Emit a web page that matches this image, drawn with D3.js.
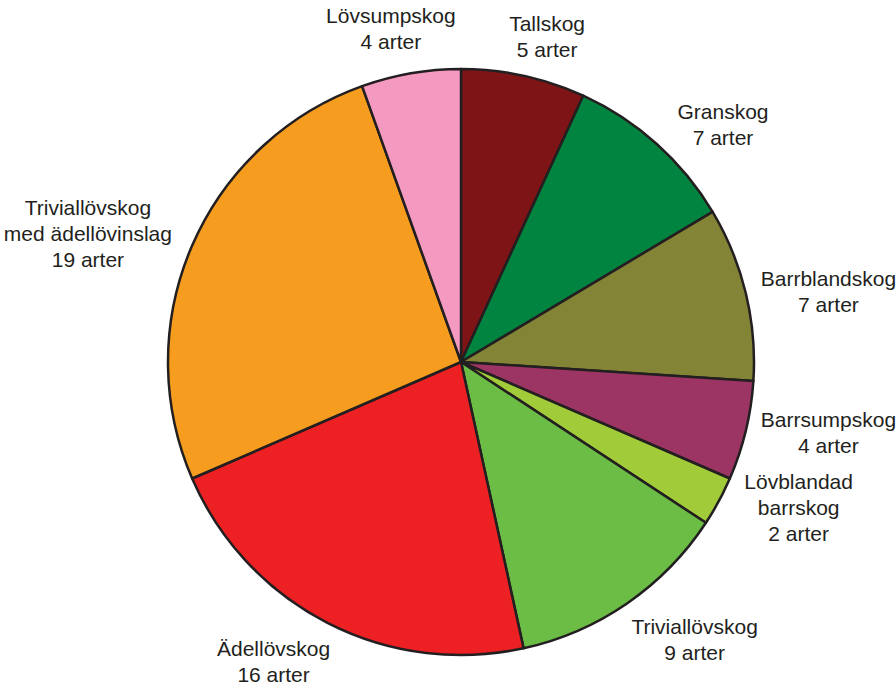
<!DOCTYPE html>
<html>
<head>
<meta charset="utf-8">
<script src="https://cdn.jsdelivr.net/npm/d3@7"></script>
<style>
body { margin: 0; background: #fff; }
</style>
</head>
<body>
<div id="chart"></div>
<script>
var names = [["Tallskog"], ["Granskog"], ["Barrblandskog"], ["Barrsumpskog"], ["Lövblandad", "barrskog"],
             ["Triviallövskog"], ["Ädellövskog"], ["Triviallövskog", "med ädellövinslag"], ["Lövsumpskog"]];
var counts = [5, 7, 7, 4, 2, 9, 16, 19, 4];
var colours = ["#7f1416", "#00843f", "#848436", "#9c3563", "#a2cb3a", "#6cbd45", "#ed2024", "#f69c1f", "#f49ac1"];

var width = 896, height = 686;
var cx = 461, cy = 362, radius = 293;
var fontSize = 21, lineH = 26;
var spread = 6 * Math.PI / 180; // labels lean away from the vertical axis

var svg = d3.select("#chart").append("svg")
    .attr("width", width)
    .attr("height", height);

var g = svg.append("g").attr("transform", "translate(" + cx + "," + cy + ")");

var data = counts.map(function(c, i){ return {name: names[i], value: c, color: colours[i]}; });

var pie = d3.pie().sort(null).value(function(d){ return d.value; });
var arc = d3.arc().innerRadius(0).outerRadius(radius);
var arcs = pie(data);

g.selectAll("path")
    .data(arcs).enter().append("path")
    .attr("d", arc)
    .attr("fill", function(d){ return d.data.color; })
    .attr("stroke", "#231f20")
    .attr("stroke-width", 2.5)
    .attr("stroke-linejoin", "round");

var labels = g.selectAll(".lbl")
    .data(arcs).enter().append("text")
    .attr("class", "lbl")
    .attr("text-anchor", "middle")
    .style("font-family", "'Liberation Sans', Arial, sans-serif")
    .style("font-size", fontSize + "px")
    .attr("fill", "#231f20");

labels.each(function(d){
    var t = d3.select(this);
    var lines = d.data.name.concat([d.value + " arter"]);
    lines.forEach(function(s, i){
        t.append("tspan").attr("x", 0).attr("dy", i == 0 ? 0 : lineH).text(s);
    });
    // push label out so its box clears the pie
    var bb = this.getBBox();
    var a = (d.startAngle + d.endAngle) / 2;
    a = a + spread * Math.sin(2 * a);
    var sa = Math.sin(a), ca = Math.cos(a);
    var r = radius + 10 + (bb.width / 2) * Math.abs(sa) + (bb.height / 2) * Math.abs(ca);
    var x = r * sa, y = -r * ca;
    var blockH = lineH * (lines.length - 1);
    t.attr("transform", "translate(" + x + "," + (y - blockH / 2 + fontSize * 0.35) + ")");
});
</script>
</body>
</html>
